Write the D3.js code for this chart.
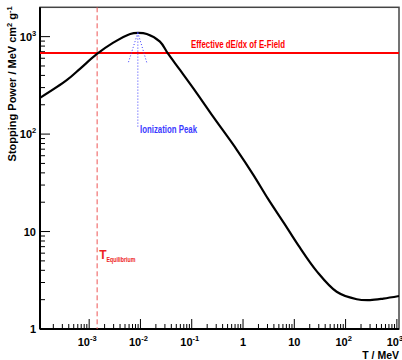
<!DOCTYPE html>
<html>
<head>
<meta charset="utf-8">
<script src="https://cdn.jsdelivr.net/npm/d3@7"></script>
<style>
  body { margin: 0; background: #fff; }
  svg { display: block; font-family: 'Liberation Sans', Arial, sans-serif; }
</style>
</head>
<body>
<div id="chart"></div>
<script>
// energy T (MeV) and stopping power (MeV cm2 / g)
const energy = [1.1e-4, 3.7e-4, 6.7e-4, 1.4e-3, 2.9e-3, 6.3e-3, 9.0e-3, 1.33e-2, 2.4e-2, 3.4e-2,
  5.9e-2, 0.126, 0.261, 0.757, 1.6, 3.1, 6.3, 12, 27.5, 67, 165, 300, 546, 1100]
const stopping = [235, 359, 470, 660, 862, 1066, 1092, 1066, 889, 676,
  455, 262, 151, 69, 38, 21.5, 12.2, 7.2, 3.9, 2.41, 2.02, 1.98, 2.05, 2.18]

const xTickVals = [1e-3, 1e-2, 1e-1, 1, 10, 1e2, 1e3]
const xTickExp = ['-3', '-2', '-1', '', '', '2', '3']
const yTickVals = [1, 10, 1e2, 1e3]
const yTickExp = ['', '', '2', '3']

// annotations
const fieldLevel = 680          // effective dE/dx of E-field
const tEquilibrium = 1.43e-3
const peakT = 8.9e-3
const peakTop = 1100
const peakBottom = 118
const arrowLeg = [[5.8e-3, 541], [1.33e-2, 541]]

const W = 402, H = 360
const m = { left: 40, right: 3, top: 7.3, bottom: 31 }

const svg = d3.select('#chart').append('svg').attr('width', W).attr('height', H)

const x = d3.scaleLog().domain([1.1e-4, 1.1e3]).range([m.left, W - m.right])
const y = d3.scaleLog().domain([1, 2000]).range([H - m.bottom, m.top])

const x0 = m.left, x1 = W - m.right, y0 = H - m.bottom, y1 = m.top

// frame
svg.append('rect')
  .attr('x', x0).attr('y', y1).attr('width', x1 - x0).attr('height', y0 - y1)
  .attr('fill', 'none').attr('stroke', '#444').attr('stroke-width', 1.5)

// minor ticks
const minors = (lo, hi) => {
  let out = []
  for (let e = -5; e <= 4; e++) {
    for (let k = 1; k <= 9; k++) {
      let v = k * Math.pow(10, e)
      if (v > lo && v < hi) out.push({ v: v, major: k === 1 })
    }
  }
  return out
}
const xd = x.domain(), yd = y.domain()
svg.append('g').selectAll('line')
  .data(minors(xd[0], xd[1]))
  .enter().append('line')
  .attr('x1', d => x(d.v)).attr('x2', d => x(d.v))
  .attr('y1', y0).attr('y2', d => y0 - (d.major ? 10 : 5))
  .attr('stroke', '#000').attr('stroke-width', 1)
svg.append('g').selectAll('line')
  .data(minors(yd[0], yd[1]).concat([{ v: 1, major: true }]))
  .enter().append('line')
  .attr('y1', d => y(d.v)).attr('y2', d => y(d.v))
  .attr('x1', x0).attr('x2', d => x0 + (d.major ? 10 : 5))
  .attr('stroke', '#000').attr('stroke-width', 1)

// axes lines
svg.append('line').attr('x1', x0).attr('x2', x1).attr('y1', y0).attr('y2', y0)
  .attr('stroke', '#000').attr('stroke-width', 2)
svg.append('line').attr('x1', x0).attr('x2', x0).attr('y1', y0).attr('y2', y1)
  .attr('stroke', '#000').attr('stroke-width', 2)

// tick labels
const label = (g, base, exp) => {
  g.append('tspan').text(base)
  if (exp) g.append('tspan').attr('dy', -5).attr('font-size', 7.5).text(exp)
}
xTickVals.forEach((v, i) => {
  let isPow = xTickExp[i] !== ''
  let t = svg.append('text')
    .attr('x', x(v) - (isPow ? 2 : 0)).attr('y', 346)
    .attr('text-anchor', 'middle')
    .attr('font-size', 11)
    .attr('font-weight', 'bold')
  label(t, v === 1 ? '1' : '10', xTickExp[i])
})
yTickVals.forEach((v, i) => {
  let isPow = yTickExp[i] !== ''
  let t = svg.append('text')
    .attr('x', isPow ? 28 : 36).attr('y', y(v) + 4)
    .attr('text-anchor', isPow ? 'middle' : 'end')
    .attr('font-size', 11)
    .attr('font-weight', 'bold')
  label(t, v === 1 ? '1' : '10', yTickExp[i])
})

// axis titles
svg.append('text')
  .attr('x', x1).attr('y', 359)
  .attr('text-anchor', 'end')
  .attr('font-size', 10.5).attr('font-weight', 'bold')
  .text('T / MeV')
let yt = svg.append('text')
  .attr('transform', 'translate(16,' + (y1 - 1) + ') rotate(-90)')
  .attr('text-anchor', 'end')
  .attr('font-size', 11).attr('font-weight', 'bold')
yt.append('tspan').text('Stopping Power / MeV cm')
yt.append('tspan').attr('dy', -4).attr('font-size', 7.5).text('2')
yt.append('tspan').attr('dy', 4).text(' g')
yt.append('tspan').attr('dy', -4).attr('font-size', 7.5).text('-1')

// equilibrium marker
svg.append('line')
  .attr('x1', x(tEquilibrium)).attr('x2', x(tEquilibrium))
  .attr('y1', y1).attr('y2', y0)
  .attr('stroke', '#ee5555').attr('stroke-width', 1)
  .attr('stroke-dasharray', '5,3')
let te = svg.append('text')
  .attr('x', x(tEquilibrium) + 2).attr('y', 259)
  .attr('fill', '#ee2222').attr('font-weight', 'bold').attr('font-size', 12)
te.append('tspan').text('T')
te.append('tspan').attr('dy', 3).attr('font-size', 7)
  .attr('textLength', 29).attr('lengthAdjust', 'spacingAndGlyphs').text('Equilibrium')

// E-field level
svg.append('line')
  .attr('x1', x0).attr('x2', x1)
  .attr('y1', y(fieldLevel)).attr('y2', y(fieldLevel))
  .attr('stroke', '#ff0000').attr('stroke-width', 2)
svg.append('text')
  .attr('x', 191).attr('y', 48)
  .attr('fill', '#ff0000').attr('font-weight', 'bold').attr('font-size', 11)
  .attr('textLength', 94).attr('lengthAdjust', 'spacingAndGlyphs')
  .text('Effective dE/dx of E-Field')

// curve
const line = d3.line()
  .x(d => x(d[0]))
  .y(d => y(d[1]))
  .curve(d3.curveCatmullRom.alpha(0.5))
svg.append('path')
  .datum(d3.zip(energy, stopping))
  .attr('d', line)
  .attr('fill', 'none')
  .attr('stroke', '#000')
  .attr('stroke-width', 2.2)

// ionization peak arrow
const blue = '#3a3aff'
svg.append('line')
  .attr('x1', x(peakT)).attr('x2', x(peakT))
  .attr('y1', y(peakTop)).attr('y2', y(peakBottom))
  .attr('stroke', blue).attr('stroke-width', 1).attr('stroke-dasharray', '1,2')
arrowLeg.forEach(p => {
  svg.append('line')
    .attr('x1', x(peakT)).attr('y1', y(peakTop))
    .attr('x2', x(p[0])).attr('y2', y(p[1]))
    .attr('stroke', blue).attr('stroke-width', 1).attr('stroke-dasharray', '1,2')
})
svg.append('text')
  .attr('x', 140).attr('y', 133)
  .attr('fill', blue).attr('font-weight', 'bold').attr('font-size', 11)
  .attr('textLength', 57).attr('lengthAdjust', 'spacingAndGlyphs')
  .text('Ionization Peak')
</script>
</body>
</html>
